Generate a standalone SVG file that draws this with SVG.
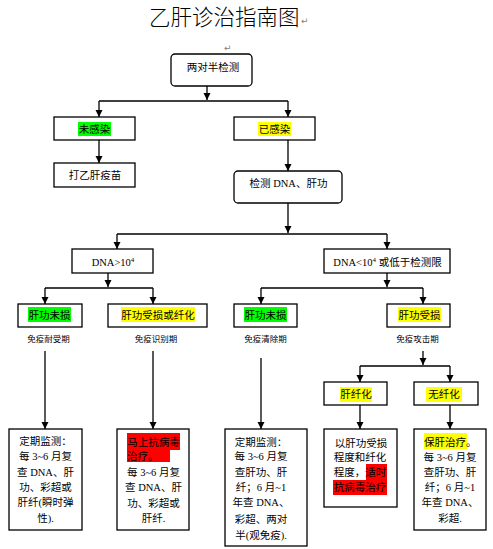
<svg xmlns="http://www.w3.org/2000/svg" width="493" height="549" viewBox="0 0 493 549">
<style>
.box{fill:#fff;stroke:#000;stroke-width:1.3}
.t{font-family:"Liberation Serif","Noto Sans CJK SC",sans-serif;font-size:10.5px;fill:#000}
.m{text-anchor:middle}
.lab{font-family:"Noto Sans CJK SC",sans-serif;font-size:8.5px;fill:#000;text-anchor:middle}
.c{fill:none;stroke:#000;stroke-width:1.3}
.mk{font-family:"DejaVu Sans",sans-serif;font-size:9px;fill:#808080}
.g{fill:#00ff00}.y{fill:#ffff00}.r{fill:#ff0000}
</style>
<defs>
<marker id="ah" markerUnits="userSpaceOnUse" markerWidth="8" markerHeight="8" refX="7" refY="3.5" orient="auto">
<path d="M0,0 L7,3.5 L0,7 z" fill="#000"/>
</marker>
</defs>
<rect width="493" height="549" fill="#fff"/>
<text x="149" y="25" font-family="Noto Sans CJK SC,sans-serif" font-size="21.5" font-weight="300">乙肝诊治指南图</text>
<text class="mk" x="301" y="24">↵</text>
<text class="mk" x="224" y="51">↵</text>

<g id="connectors">
<path class="c" d="M207,86 V100" marker-end="url(#ah)"/>
<path class="c" d="M99,101 H288"/>
<path class="c" d="M99,101 V117" marker-end="url(#ah)"/>
<path class="c" d="M288,101 V117" marker-end="url(#ah)"/>
<path class="c" d="M99,140 V163" marker-end="url(#ah)"/>
<path class="c" d="M288,140 V171" marker-end="url(#ah)"/>
<path class="c" d="M288,203 V233" marker-end="url(#ah)"/>
<path class="c" d="M117,234 H387"/>
<path class="c" d="M117,234 V249" marker-end="url(#ah)"/>
<path class="c" d="M387,234 V249" marker-end="url(#ah)"/>
<path class="c" d="M108,273 V287" marker-end="url(#ah)"/>
<path class="c" d="M45,288 H153"/>
<path class="c" d="M45,288 V304" marker-end="url(#ah)"/>
<path class="c" d="M153,288 V304" marker-end="url(#ah)"/>
<path class="c" d="M387,273 V287" marker-end="url(#ah)"/>
<path class="c" d="M261,288 H423"/>
<path class="c" d="M261,288 V304" marker-end="url(#ah)"/>
<path class="c" d="M423,288 V304" marker-end="url(#ah)"/>
<path class="c" d="M45,351 V429" marker-end="url(#ah)"/>
<path class="c" d="M153,351 V429" marker-end="url(#ah)"/>
<path class="c" d="M261,358 V429" marker-end="url(#ah)"/>
<path class="c" d="M423,351 V365" marker-end="url(#ah)"/>
<path class="c" d="M360,366 H450"/>
<path class="c" d="M360,366 V382" marker-end="url(#ah)"/>
<path class="c" d="M450,366 V382" marker-end="url(#ah)"/>
<path class="c" d="M360,405 V429" marker-end="url(#ah)"/>
<path class="c" d="M450,405 V429" marker-end="url(#ah)"/>
</g>

<g id="n_liangduiban">
<rect class="box" x="171" y="54" width="81" height="32" rx="4"/>
<text class="t m" x="213" y="70.5">两对半检测</text>
</g>
<g id="n_weiganran">
<rect class="box" x="54" y="117" width="81" height="23"/>
<rect class="g" x="78" y="122" width="33" height="14"/>
<text class="t m" x="94.5" y="133">未感染</text>
</g>
<g id="n_yiganran">
<rect class="box" x="234" y="117" width="81" height="23"/>
<rect class="y" x="258" y="122" width="33" height="14"/>
<text class="t m" x="274.5" y="133">已感染</text>
</g>
<g id="n_vaccine">
<rect class="box" x="54" y="163" width="81" height="24"/>
<text class="t m" x="95" y="179">打乙肝疫苗</text>
</g>
<g id="n_jiance">
<rect class="box" x="234" y="171" width="108" height="32" rx="4"/>
<text class="t m" x="288.5" y="187">检测 DNA、肝功</text>
</g>
<g id="n_dna_high">
<rect class="box" x="72" y="249" width="81" height="24"/>
<text class="t m" x="113" y="266">DNA&gt;10<tspan font-size="7" dy="-4">4</tspan></text>
</g>
<g id="n_dna_low">
<rect class="box" x="324" y="249" width="126" height="24"/>
<text class="t m" x="387.5" y="266">DNA&lt;10<tspan font-size="7" dy="-4">4</tspan><tspan dy="4"> 或低于检测限</tspan></text>
</g>
<g id="n_gg_weisun_l">
<rect class="box" x="18" y="304" width="64" height="23"/>
<rect class="g" x="28" y="307" width="43" height="15"/>
<text class="t m" x="49.5" y="318.5">肝功未损</text>
<text class="lab" x="48.5" y="342">免疫耐受期</text>
</g>
<g id="n_gg_shousun_xianhua">
<rect class="box" x="108" y="304" width="99" height="23"/>
<rect class="y" x="121" y="307" width="74" height="15"/>
<text class="t m" x="158" y="318.5">肝功受损或纤化</text>
<text class="lab" x="156" y="342">免疫识别期</text>
</g>
<g id="n_gg_weisun_r">
<rect class="box" x="234" y="304" width="63" height="23"/>
<rect class="g" x="244" y="307" width="43" height="15"/>
<text class="t m" x="265.5" y="318.5">肝功未损</text>
<text class="lab" x="265.5" y="342">免疫清除期</text>
</g>
<g id="n_gg_shousun">
<rect class="box" x="387" y="304" width="63" height="23"/>
<rect class="y" x="398" y="307" width="43" height="15"/>
<text class="t m" x="419.5" y="318.5">肝功受损</text>
<text class="lab" x="417.5" y="342">免疫攻击期</text>
</g>
<g id="n_ganxianhua">
<rect class="box" x="324" y="382" width="63" height="23"/>
<rect class="y" x="340" y="387" width="32" height="15"/>
<text class="t m" x="356" y="398">肝纤化</text>
</g>
<g id="n_wuxianhua">
<rect class="box" x="414" y="382" width="64" height="23"/>
<rect class="y" x="426" y="387" width="36" height="15"/>
<text class="t m" x="444" y="398">无纤化</text>
</g>
<g id="n_box_a">
<rect class="box" x="9" y="429" width="73" height="101"/>
<text class="t m" x="45.5" y="445">定期监测：</text>
<text class="t m" x="45.5" y="460">每 3~6 月复</text>
<text class="t m" x="45.5" y="476">查 DNA、肝</text>
<text class="t m" x="45.5" y="491">功、彩超或</text>
<text class="t m" x="45.5" y="506">肝纤(瞬时弹</text>
<text class="t m" x="45.5" y="522">性).</text>
</g>
<g id="n_box_b">
<rect class="box" x="117" y="429" width="72" height="101"/>
<rect class="r" x="127" y="433" width="53" height="17"/>
<rect class="r" x="127" y="450" width="43" height="12"/>
<text class="t m" x="153.5" y="446">马上抗病毒</text>
<text class="t" x="127" y="460">治疗。</text>
<text class="t m" x="153.5" y="476">每 3~6 月复</text>
<text class="t m" x="153.5" y="491">查 DNA、肝</text>
<text class="t m" x="153.5" y="507">功、彩超或</text>
<text class="t m" x="153.5" y="522">肝纤.</text>
</g>
<g id="n_box_c">
<rect class="box" x="225" y="429" width="82" height="117"/>
<text class="t m" x="261" y="446">定期监测：</text>
<text class="t m" x="261" y="460">每 3~6 月复</text>
<text class="t m" x="261" y="476">查肝功、肝</text>
<text class="t m" x="261" y="491">纤；6 月~1</text>
<text class="t m" x="261" y="506">年查 DNA、</text>
<text class="t m" x="261" y="523">彩超、两对</text>
<text class="t m" x="261" y="539">半(观免疫).</text>
</g>
<g id="n_box_d">
<rect class="box" x="324" y="429" width="73" height="78"/>
<rect class="r" x="366" y="464" width="21" height="16"/>
<rect class="r" x="333" y="480" width="54" height="15"/>
<text class="t m" x="361" y="447">以肝功受损</text>
<text class="t m" x="360" y="461">程度和纤化</text>
<text class="t m" x="360" y="476">程度，适时</text>
<text class="t m" x="360" y="491">抗病毒治疗</text>
</g>
<g id="n_box_e">
<rect class="box" x="414" y="429" width="72" height="101"/>
<rect class="y" x="424" y="433" width="43" height="16"/>
<text class="t" x="424" y="446">保肝治疗。</text>
<text class="t m" x="450" y="461">每 3~6 月复</text>
<text class="t m" x="450" y="476">查肝功、肝</text>
<text class="t m" x="450" y="491">纤；6 月~1</text>
<text class="t m" x="450" y="506">年查 DNA、</text>
<text class="t m" x="450" y="522">彩超.</text>
</g>
</svg>
